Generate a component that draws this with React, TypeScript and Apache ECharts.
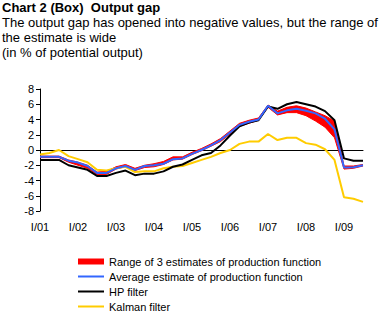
import React, { useEffect, useRef } from "react";
import * as echarts from "echarts";

const quarters = [
  "I/01", "II/01", "III/01", "IV/01",
  "I/02", "II/02", "III/02", "IV/02",
  "I/03", "II/03", "III/03", "IV/03",
  "I/04", "II/04", "III/04", "IV/04",
  "I/05", "II/05", "III/05", "IV/05",
  "I/06", "II/06", "III/06", "IV/06",
  "I/07", "II/07", "III/07", "IV/07",
  "I/08", "II/08", "III/08", "IV/08",
  "I/09", "II/09", "III/09",
];

const rangeLow = [
  -1.0, -1.0, -1.0, -1.6, -2.0, -2.4, -3.2, -3.2, -2.5, -2.2, -2.7, -2.3,
  -2.2, -1.9, -1.3, -1.2, -0.6, -0.1, 0.5, 1.1, 2.1, 3.1, 3.5, 3.9,
  5.6, 4.6, 4.9, 4.9, 4.5, 3.8, 3.0, 1.6, -2.5, -2.4, -2.1,
];
const rangeHigh = [
  -0.8, -0.8, -0.8, -1.3, -1.6, -2.0, -2.9, -2.8, -2.2, -1.9, -2.4, -2.0,
  -1.8, -1.5, -0.9, -0.9, -0.3, 0.2, 0.8, 1.5, 2.5, 3.5, 3.9, 4.2,
  5.9, 5.1, 5.6, 5.8, 5.5, 5.0, 4.5, 3.8, -2.1, -2.1, -1.9,
];
const average = [
  -0.9, -0.9, -0.9, -1.4, -1.65, -2.1, -3.0, -3.0, -2.4, -2.1, -2.6, -2.1,
  -2.0, -1.8, -1.2, -1.1, -0.5, 0.0, 0.6, 1.3, 2.3, 3.3, 3.7, 4.0,
  5.8, 4.8, 5.2, 5.4, 5.15, 4.8, 4.1, 2.7, -2.3, -2.25, -2.0,
];
const hpFilter = [
  -1.3, -1.3, -1.3, -2.0, -2.3, -2.6, -3.4, -3.4, -3.0, -2.7, -3.3, -3.1,
  -3.1, -2.8, -2.2, -1.9, -1.3, -0.7, -0.4, 0.6, 1.9, 3.1, 3.6, 3.9,
  5.7, 5.4, 6.0, 6.3, 6.0, 5.7, 5.1, 3.9, -1.1, -1.4, -1.4,
];
const kalman = [
  -0.6, -0.4, 0.0, -0.8, -1.2, -1.6, -2.6, -2.7, -2.4, -2.2, -2.9, -2.8,
  -2.8, -2.4, -2.2, -2.1, -1.7, -1.3, -0.9, -0.4, 0.0, 0.8, 1.1, 1.1,
  2.1, 1.3, 1.6, 1.6, 0.9, 0.7, 0.1, -1.3, -6.2, -6.4, -6.8,
];

const yTicks = { min: -8, max: 8, interval: 2 };

const NAME_RANGE = "Range of 3 estimates of production function";
const NAME_AVG = "Average estimate of production function";
const NAME_HP = "HP filter";
const NAME_KALMAN = "Kalman filter";

export default function App() {
  const ref = useRef<HTMLDivElement>(null);
  useEffect(() => {
    const chart = echarts.init(ref.current!, null, { renderer: "svg" });
    const font = "'Liberation Sans', Arial, sans-serif";
    const bandWidth = rangeHigh.map((h, i) => +(h - rangeLow[i]).toFixed(2));
    const legendBase = {
      orient: "vertical",
      left: 73,
      itemWidth: 26,
      itemGap: 0,
      selectedMode: false,
      textStyle: { fontFamily: font, fontSize: 11, color: "#000", lineHeight: 15 },
    };
    chart.setOption({
      animation: false,
      backgroundColor: "#fff",
      title: {
        left: 2,
        top: 0,
        padding: 0,
        itemGap: 0,
        text: "Chart 2 (Box)  Output gap",
        textStyle: { fontFamily: font, fontSize: 13, fontWeight: "bold", color: "#000", lineHeight: 15 },
        subtext:
          "The output gap has opened into negative values, but the range of\nthe estimate is wide\n(in % of potential output)",
        subtextStyle: { fontFamily: font, fontSize: 13, color: "#000", lineHeight: 15 },
      },
      legend: [
        { ...legendBase, top: 249, itemHeight: 6, data: [{ name: NAME_RANGE, icon: "rect" }] },
        { ...legendBase, top: 264, itemHeight: 2, data: [{ name: NAME_AVG, icon: "rect" }] },
        { ...legendBase, top: 279, itemHeight: 2, data: [{ name: NAME_HP, icon: "rect" }] },
        { ...legendBase, top: 294, itemHeight: 2, data: [{ name: NAME_KALMAN, icon: "rect" }] },
      ],
      grid: { left: 40, right: 22, top: 89, bottom: 113, containLabel: false },
      xAxis: [
        {
          type: "category",
          data: quarters,
          boundaryGap: false,
          axisLine: { show: false, onZero: false },
          axisTick: { show: false },
          axisLabel: {
            interval: 3,
            margin: 10,
            fontFamily: font,
            fontSize: 11,
            color: "#000",
          },
          splitLine: { show: false },
        },
        {
          type: "category",
          data: quarters,
          boundaryGap: false,
          position: "bottom",
          axisLine: { show: true, onZero: true, lineStyle: { color: "#000", width: 1 } },
          axisTick: { show: false },
          axisLabel: { show: false },
          splitLine: { show: false },
        },
      ],
      yAxis: {
        type: "value",
        ...yTicks,
        axisLine: { show: true, lineStyle: { color: "#000", width: 1 } },
        axisTick: { show: true, length: 4, lineStyle: { color: "#000" } },
        axisLabel: { fontFamily: font, fontSize: 11, color: "#000", margin: 6 },
        splitLine: { show: false },
      },
      series: [
        {
          name: "rangeLow",
          type: "line",
          stack: "band",
          stackStrategy: "all",
          data: rangeLow,
          symbol: "none",
          color: "#FF0000",
          lineStyle: { color: "#FF0000", width: 1 },
          z: 2,
        },
        {
          name: NAME_RANGE,
          type: "line",
          stack: "band",
          stackStrategy: "all",
          data: bandWidth,
          symbol: "none",
          color: "#FF0000",
          lineStyle: { color: "#FF0000", width: 1 },
          areaStyle: { color: "#FF0000", opacity: 1 },
          z: 2,
        },
        {
          name: NAME_KALMAN,
          type: "line",
          data: kalman,
          symbol: "none",
          color: "#FFCC00",
          lineStyle: { color: "#FFCC00", width: 2 },
          z: 3,
        },
        {
          name: NAME_HP,
          type: "line",
          data: hpFilter,
          symbol: "none",
          color: "#000000",
          lineStyle: { color: "#000000", width: 2 },
          z: 4,
        },
        {
          name: NAME_AVG,
          type: "line",
          data: average,
          symbol: "none",
          color: "#3366FF",
          lineStyle: { color: "#3366FF", width: 2 },
          z: 5,
        },
      ],
    });
    return () => chart.dispose();
  }, []);
  return (
    <div
      ref={ref}
      style={{ position: "fixed", left: 0, top: 0, width: 385, height: 324 }}
    />
  );
}
